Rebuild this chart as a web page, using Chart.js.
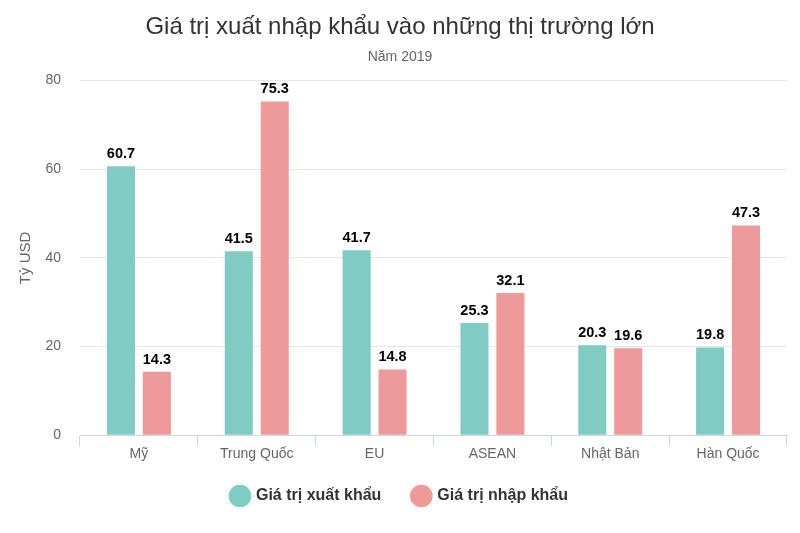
<!DOCTYPE html>
<html>
<head>
<meta charset="utf-8">
<script src="https://cdn.jsdelivr.net/npm/chart.js@4"></script>
<style>
  html, body { margin: 0; padding: 0; background: #fff; }
  #wrap { width: 800px; height: 533px; }
</style>
</head>
<body>
<div id="wrap"><canvas id="chart"></canvas></div>
<script>
// Dữ liệu
var thiTruong = ['Mỹ', 'Trung Quốc', 'EU', 'ASEAN', 'Nhật Bản', 'Hàn Quốc'];
var xuatKhau = [60.7, 41.5, 41.7, 25.3, 20.3, 19.8];
var nhapKhau = [14.3, 75.3, 14.8, 32.1, 19.6, 47.3];
var yTicks = [0, 20, 40, 60, 80];

var fontFamily = '"Liberation Sans", Arial, sans-serif';

// Nhãn giá trị phía trên mỗi cột
var nhanGiaTri = {
    id: 'nhanGiaTri',
    afterDatasetsDraw: function (chart) {
        var ctx = chart.ctx;
        ctx.save();
        ctx.font = 'bold 14.5px ' + fontFamily;
        ctx.fillStyle = '#000';
        ctx.textAlign = 'center';
        ctx.textBaseline = 'bottom';
        chart.data.datasets.forEach(function (ds, i) {
            chart.getDatasetMeta(i).data.forEach(function (bar, j) {
                ctx.fillText(ds.data[j].toFixed(1), bar.x, bar.y - 5);
            });
        });
        ctx.restore();
    }
};

// Chú thích: khoảng cách ngang rộng hơn nhưng kéo lên gần trục x
var dichChuThich = {
    id: 'dichChuThich',
    afterLayout: function (chart) {
        chart.legend.top -= 7;
        chart.legend.bottom -= 7;
    }
};

var ctx = document.getElementById('chart').getContext('2d');
new Chart(ctx, {
    type: 'bar',
    data: {
        labels: thiTruong,
        datasets: [
            {
                label: 'Giá trị xuất khẩu',
                data: xuatKhau,
                backgroundColor: '#80CBC4',
                borderWidth: 0
            },
            {
                label: 'Giá trị nhập khẩu',
                data: nhapKhau,
                backgroundColor: '#EF9A9A',
                borderWidth: 0
            }
        ]
    },
    options: {
        responsive: true,
        maintainAspectRatio: false,
        animation: false,
        categoryPercentage: 0.61,
        barPercentage: 0.78,
        layout: { padding: { left: 13, right: 13, top: 0, bottom: 12 } },
        plugins: {
            title: {
                display: true,
                text: 'Giá trị xuất nhập khẩu vào những thị trường lớn',
                color: '#333',
                font: { family: fontFamily, size: 24, weight: 'normal' },
                padding: { top: 13, bottom: 7 }
            },
            subtitle: {
                display: true,
                text: 'Năm 2019',
                color: '#666',
                font: { family: fontFamily, size: 14, weight: 'normal' },
                padding: { bottom: 15 }
            },
            legend: {
                position: 'bottom',
                labels: {
                    usePointStyle: true,
                    pointStyle: 'circle',
                    boxWidth: 16,
                    boxHeight: 16,
                    padding: 32,
                    color: '#333',
                    font: { family: fontFamily, size: 16, weight: 'bold' }
                }
            },
            tooltip: { enabled: false }
        },
        scales: {
            x: {
                grid: {
                    display: true,
                    drawOnChartArea: false,
                    drawTicks: true,
                    tickLength: 11,
                    color: '#ccd6eb'
                },
                border: { display: true, color: '#ccd6eb', width: 1 },
                ticks: {
                    color: '#666',
                    padding: 0,
                    font: { family: fontFamily, size: 14 }
                }
            },
            y: {
                min: 0,
                max: 80,
                afterBuildTicks: function (scale) {
                    scale.ticks = yTicks.map(function (v) { return { value: v }; });
                },
                afterFit: function (scale) { scale.width = 67; },
                grid: { color: '#e6e6e6', drawTicks: false },
                border: { display: false },
                ticks: {
                    color: '#666',
                    padding: 19,
                    font: { family: fontFamily, size: 14 }
                },
                title: {
                    display: true,
                    text: 'Tỷ USD',
                    color: '#666',
                    font: { family: fontFamily, size: 15 },
                    padding: { bottom: 4 }
                }
            }
        }
    },
    plugins: [nhanGiaTri, dichChuThich]
});
</script>
</body>
</html>
